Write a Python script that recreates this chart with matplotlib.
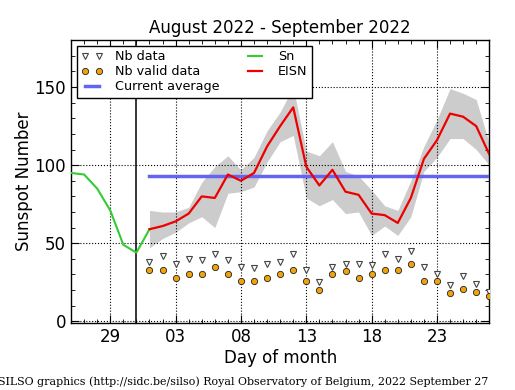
import matplotlib
matplotlib.use("Agg")
import matplotlib.pyplot as plt
import matplotlib.dates as mdates
import numpy as np
import pandas as pd

# ---- data ----
sn_start = "2022-08-26"
sn_values = [95, 94, 85, 71, 49, 44, 59]

eisn_start = "2022-09-01"
eisn_values = [59, 61, 64, 69, 80, 79, 94, 90, 95, 112, 125, 137, 99, 87, 97,
               83, 81, 69, 68, 63, 79, 104, 116, 133, 131, 125, 107]
eisn_upper = [71, 70, 70, 73, 89, 99, 106, 97, 105, 122, 134, 150, 109, 106, 115,
              96, 93, 84, 74, 71, 90, 112, 129, 149, 146, 142, 114]
eisn_lower = [47, 53, 57, 63, 67, 60, 82, 83, 86, 102, 115, 119, 79, 74, 78,
              69, 70, 55, 61, 55, 67, 96, 105, 117, 117, 110, 100]
nb_data = [38, 42, 37, 40, 39, 43, 39, 35, 34, 37, 38, 43, 33, 25, 35,
           37, 37, 36, 43, 40, 45, 35, 30, 23, 29, 24, 19]
nb_valid = [33, 33, 28, 30, 30, 35, 30, 26, 26, 28, 30, 33, 26, 20, 30,
            32, 28, 30, 33, 33, 37, 26, 26, 18, 21, 19, 16]
current_average = 93
divider_date = "2022-08-31"
x_range = ("2022-08-26", "2022-09-27")
major_days = [29, 3, 8, 13, 18, 23]

title = "August 2022 - September 2022"
footer = "SILSO graphics (http://sidc.be/silso) Royal Observatory of Belgium, 2022 September 27"

sn_dates = pd.date_range(sn_start, periods=len(sn_values), freq="D")
eisn_dates = pd.date_range(eisn_start, periods=len(eisn_values), freq="D")

fig = plt.figure(figsize=(5.15, 3.9), dpi=100)
ax = fig.add_axes([0.138, 0.172, 0.812, 0.725])

ax.fill_between(eisn_dates, eisn_lower, eisn_upper, color="#cccccc", lw=0, zorder=1)
ax.plot(eisn_dates, nb_data, ls="none", marker="v", ms=4.5, mfc="white",
        mec="#444444", mew=0.8, label="Nb data", zorder=4)
ax.plot(eisn_dates, nb_valid, ls="none", marker="o", ms=4.5, mfc="#f0a30a",
        mec="#222222", mew=0.6, label="Nb valid data", zorder=4)
ax.plot([eisn_dates[0], eisn_dates[-1]], [current_average] * 2, color="#6464f0",
        lw=2.5, label="Current average", zorder=3)
ax.plot(sn_dates, sn_values, color="#33cc33", lw=1.5, label="Sn", zorder=3)
ax.plot(eisn_dates, eisn_values, color="#ee0000", lw=1.6, label="EISN", zorder=3)
ax.axvline(pd.Timestamp(divider_date), color="black", lw=1.1, zorder=2)

ax.set_xlim(pd.Timestamp(x_range[0]), pd.Timestamp(x_range[1]))
ax.set_ylim(-1, 180)
ax.xaxis.set_major_locator(mdates.DayLocator(bymonthday=major_days))
ax.xaxis.set_major_formatter(mdates.DateFormatter("%d"))
ax.xaxis.set_minor_locator(mdates.DayLocator())
ax.yaxis.set_major_locator(plt.MultipleLocator(50))
ax.yaxis.set_minor_locator(plt.MultipleLocator(10))
ax.tick_params(which="both", direction="in", top=True, right=True, labelsize=12)
ax.tick_params(which="major", length=6, width=0.8)
ax.tick_params(which="minor", length=3, width=0.6)
ax.grid(True, which="major", ls=":", color="black", lw=0.8)
for s in ax.spines.values():
    s.set_linewidth(1.0)

ax.set_title(title, fontsize=12, pad=5)
ax.set_xlabel("Day of month", fontsize=12, labelpad=2)
ax.set_ylabel("Sunspot Number", fontsize=12, labelpad=1)

leg = ax.legend(loc="upper left", ncol=2, numpoints=2, fontsize=9.2, fancybox=False,
                edgecolor="black", framealpha=1, borderaxespad=0.45,
                handlelength=1.7, handletextpad=0.9, columnspacing=2.0,
                labelspacing=0.15, borderpad=0.35)
leg.get_frame().set_linewidth(1.0)

fig.text(-0.004, 0.008, footer, fontsize=7.9, family="DejaVu Serif", ha="left", va="bottom")

fig.savefig("out.png", dpi=100)
